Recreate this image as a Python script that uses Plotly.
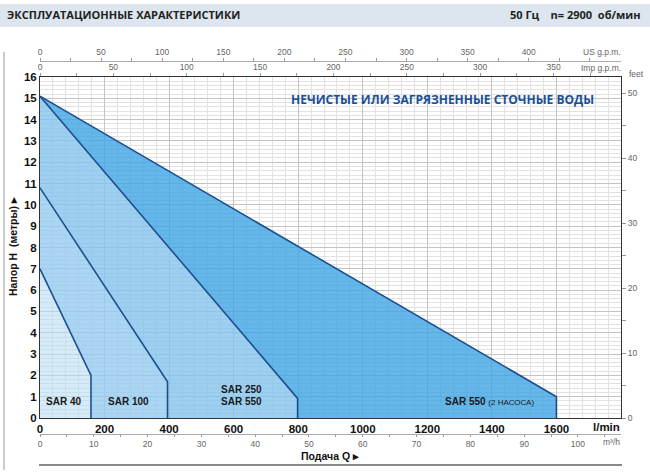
import plotly.graph_objects as go

# ---------------- data ----------------
models = ["SAR 40", "SAR 100", "SAR 250 / SAR 550", "SAR 550 (2 НАСОСА)"]
q_end = [158, 395, 798, 1600]          # l/min where each curve ends
h_shutoff = [7.0, 10.8, 15.1, 15.1]    # head at Q=0 (m)
h_end = [2.0, 1.7, 0.92, 1.0]          # head at end of curve (m)

x_ticks_lmin = [0, 200, 400, 600, 800, 1000, 1200, 1400, 1600]
y_ticks_m = list(range(0, 17))
us_gpm_ticks = list(range(0, 451, 25))
us_gpm_labels = [str(v) if v % 50 == 0 and v <= 400 else "" for v in us_gpm_ticks]
imp_gpm_ticks = list(range(0, 376, 25))
imp_gpm_labels = [str(v) if v % 50 == 0 else "" for v in imp_gpm_ticks]
m3h_ticks = list(range(0, 106, 5))
m3h_labels = [str(v) if v % 10 == 0 else "" for v in m3h_ticks]
feet_ticks = list(range(0, 55, 5))
feet_labels = [str(v) if v % 10 == 0 else "" for v in feet_ticks]

region_fill = [
    "rgba(187,222,243,0.60)",
    "rgba(149,204,240,0.80)",
    "rgba(133,195,236,0.80)",
    "rgba(62,165,227,0.80)",
]
line_col = "#1d4f8f"

# ---------------- geometry helpers (layout only) ----------------
W, H = 650, 473
ML, MR, MT, MB = 40, 29, 45, 5
PW, PH = W - ML - MR, H - MT - MB
def xp(px):
    return (px - ML) / PW
def yp(py):
    return (H - MB - py) / PH

y_dom = [yp(418), yp(77)]
XMAX = 1800.0
YMAX = 16.0

fig = go.Figure()

# filled regions between successive curves
prev_x, prev_y = [0], [0]
for i in range(len(models)):
    cx = [0, q_end[i], q_end[i]]
    cy = [h_shutoff[i], h_end[i], 0]
    px_ = cx + prev_x[::-1] + [cx[0]]
    py_ = cy + prev_y[::-1] + [cy[0]]
    fig.add_trace(go.Scatter(x=px_, y=py_, fill="toself", fillcolor=region_fill[i],
                             mode="lines", line=dict(width=0), hoverinfo="skip",
                             showlegend=False))
    prev_x, prev_y = cx, cy

# curve outlines
for i in range(len(models)):
    fig.add_trace(go.Scatter(x=[0, q_end[i], q_end[i]], y=[h_shutoff[i], h_end[i], 0],
                             mode="lines", line=dict(color=line_col, width=1.6),
                             name=models[i], showlegend=False))

# dummy traces for secondary axes
for xa, ya in [("x2", "y"), ("x3", "y"), ("x4", "y"), ("x", "y2")]:
    fig.add_trace(go.Scatter(x=[0], y=[0], xaxis=xa, yaxis=ya, mode="markers",
                             marker=dict(opacity=0), showlegend=False, hoverinfo="skip"))

SANS = "Liberation Sans, Arial, sans-serif"
small = dict(family=SANS, size=8.5, color="#666666")
tickf = dict(family=SANS, size=11.5, color="#111", weight="bold")

fig.update_layout(
    width=W, height=H,
    margin=dict(l=ML, r=MR, t=MT, b=MB, autoexpand=False),
    paper_bgcolor="white", plot_bgcolor="white",
    xaxis=dict(range=[0, XMAX], domain=[0, 1], anchor="y",
               tickvals=x_ticks_lmin, ticktext=[str(v) for v in x_ticks_lmin],
               tickfont=tickf,
               showgrid=True, gridcolor="#c4c4c4", gridwidth=1.3,
               minor=dict(dtick=40, showgrid=True, gridcolor="#e2e2e2", gridwidth=0.8),
               showline=True, linecolor="#333", linewidth=1, mirror=True,
               ticks="", zeroline=False, fixedrange=True),
    yaxis=dict(range=[0, YMAX], domain=y_dom, anchor="x",
               tickvals=y_ticks_m, tickfont=tickf,
               showgrid=True, gridcolor="#c4c4c4", gridwidth=1.3,
               minor=dict(dtick=0.2, showgrid=True, gridcolor="#e2e2e2", gridwidth=0.8),
               showline=True, linecolor="#333", linewidth=1, mirror=True,
               ticks="", zeroline=False, fixedrange=True),
    xaxis2=dict(range=[0, XMAX / 3.78541], overlaying="x", anchor="free", position=yp(61),
                side="top", tickvals=us_gpm_ticks, ticktext=us_gpm_labels,
                tickfont=small, ticks="outside", ticklen=3, tickcolor="#999",
                showline=True, linecolor="#aaa", linewidth=1, showgrid=False,
                zeroline=False),
    xaxis3=dict(range=[0, XMAX / 4.54609], overlaying="x", anchor="y",
                side="top", tickvals=imp_gpm_ticks, ticktext=imp_gpm_labels,
                tickfont=small, ticks="outside", ticklen=3, tickcolor="#999",
                showline=False, showgrid=False, zeroline=False),
    xaxis4=dict(range=[0, XMAX * 60 / 1000], overlaying="x", anchor="free", position=yp(434),
                side="bottom", tickvals=m3h_ticks, ticktext=m3h_labels,
                tickfont=small, ticks="outside", ticklen=2, tickcolor="#999",
                showline=True, linecolor="#aaa", linewidth=1, showgrid=False,
                zeroline=False),
    yaxis2=dict(range=[0, YMAX / 0.3048], overlaying="y", anchor="x", side="right",
                tickvals=feet_ticks, ticktext=feet_labels,
                tickfont=small, ticks="outside", ticklen=4, tickcolor="#999",
                showline=False, showgrid=False, zeroline=False),
)

shapes = [
    dict(type="rect", xref="paper", yref="paper", x0=xp(0), x1=xp(650), y0=yp(27), y1=yp(4),
         fillcolor="#dde6ee", line=dict(width=0), layer="below"),
    dict(type="line", xref="paper", yref="paper", x0=xp(4), x1=xp(4), y0=yp(470), y1=yp(52),
         line=dict(color="#999", width=1)),
    dict(type="line", xref="paper", yref="paper", x0=xp(39), x1=xp(622), y0=yp(465), y1=yp(465),
         line=dict(color="#8a8a8a", width=2)),
]
fig.update_layout(shapes=shapes)

OPEN = "Open Sans, Noto Sans, sans-serif"
ann = []
def A(text, x, y, xref="paper", yref="paper", xanchor="center", yanchor="middle", font=None, **kw):
    d = dict(text=text, x=x, y=y, xref=xref, yref=yref, xanchor=xanchor, yanchor=yanchor,
             showarrow=False, font=font or {})
    d.update(kw)
    ann.append(d)

A("ЭКСПЛУАТАЦИОННЫЕ ХАРАКТЕРИСТИКИ", xp(5), yp(15), xanchor="left",
  font=dict(family=OPEN, size=11, color="#222", weight="bold"))
A("50 Гц    n= 2900  об/мин", xp(643), yp(15), xanchor="right",
  font=dict(family=OPEN, size=11, color="#222", weight="bold"))
A("НЕЧИСТЫЕ ИЛИ ЗАГРЯЗНЕННЫЕ СТОЧНЫЕ ВОДЫ", xp(596), yp(100), xanchor="right",
  font=dict(family=OPEN, size=12, color="#1a4f96", weight="bold"))
A("US g.p.m.", xp(623), yp(52), xanchor="right", font=small)
A("Imp g.p.m.", xp(623), yp(68), xanchor="right", font=small)
A("feet", xp(627), yp(74), xanchor="left", font=small)
A("m³/h", xp(622), yp(442), xanchor="right", font=small)
A("l/min", xp(622), yp(427), xanchor="right", font=tickf)
A("Подача Q ▸", xp(330), yp(456),
  font=dict(family=SANS, size=10.5, color="#111", weight="bold"))
A("Напор H  (метры) ▸", xp(13), yp(247), textangle=-90,
  font=dict(family=SANS, size=10.5, color="#111", weight="bold"))

lbl = dict(family=SANS, size=10, color="#1a1a1a", weight="bold")
A("SAR 40", 72, 0.77, xref="x", yref="y", font=lbl)
A("SAR 100", 275, 0.77, xref="x", yref="y", font=lbl)
A("SAR 250", 625, 1.33, xref="x", yref="y", font=lbl)
A("SAR 550", 625, 0.77, xref="x", yref="y", font=lbl)
A("SAR 550 <span style='font-size:8px;font-weight:normal'>(2 НАСОСА)</span>", 1394, 0.77,
  xref="x", yref="y", font=lbl)

fig.update_layout(annotations=ann)
fig.write_html("out.html", config={"displayModeBar": False},
               post_script="document.body.style.margin='0';document.body.style.overflow='hidden';")
